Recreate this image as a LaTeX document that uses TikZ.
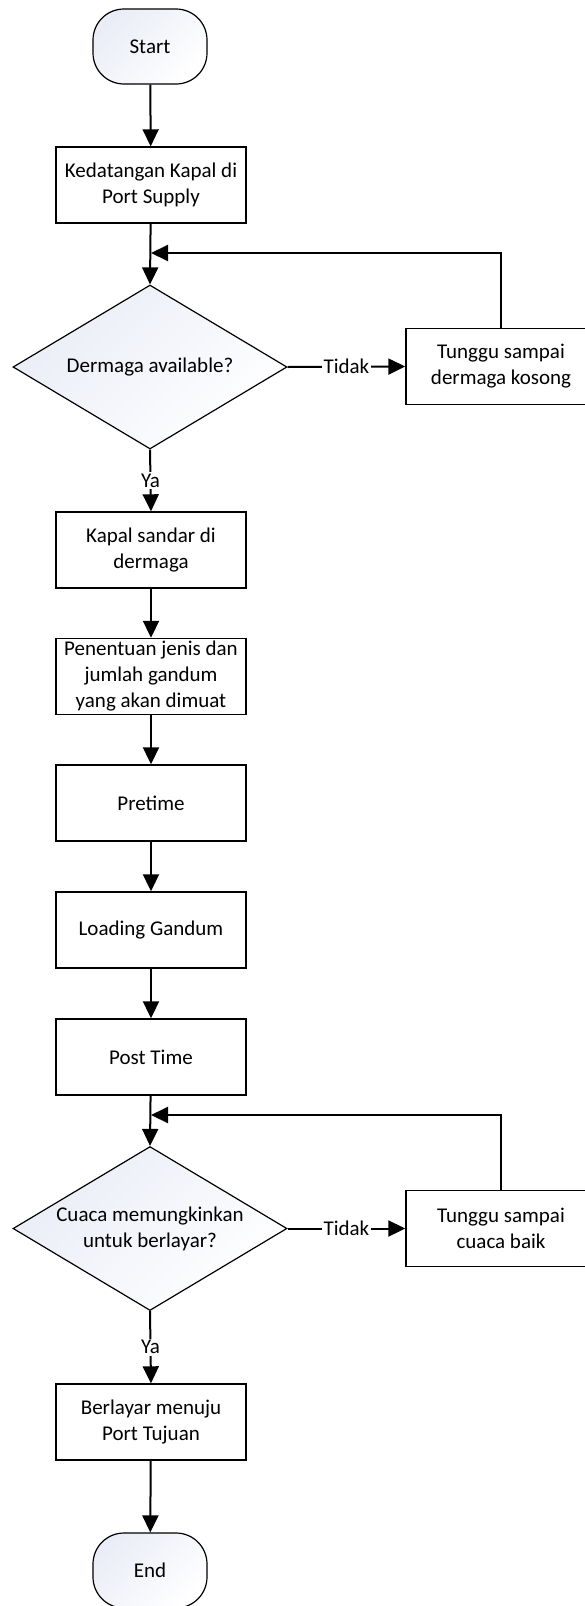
\documentclass[tikz,border=0pt]{standalone}
\usepackage{fontspec}
\setmainfont{Carlito}
\usetikzlibrary{shapes.geometric,arrows.meta}
\definecolor{shadeA}{RGB}{234,237,247}
\begin{document}
\begin{tikzpicture}[x=1pt,y=-1pt,
  every node/.style={font=\fontsize{21}{26}\selectfont},
  proc/.style={draw, line width=1.4pt, minimum width=190pt, minimum height=76pt, align=center, inner sep=0pt, fill=white},
  term/.style={draw, line width=1.2pt, rounded corners=31pt, minimum width=114pt, minimum height=75pt, top color=shadeA, bottom color=white, shading angle=45},
  dec/.style={draw, diamond, line width=1.2pt, minimum width=274pt, minimum height=164pt, inner sep=0pt, top color=shadeA, bottom color=white, shading angle=45},
  txt/.style={align=center, inner sep=0pt},
  arr/.style={line width=2pt, -{Triangle[length=17pt,width=16pt]}},
  lbl/.style={fill=white, inner sep=1.5pt}
]
\useasboundingbox (0,0) rectangle (585,1606);
\clip (0,0) rectangle (585,1606);

% nodes
\node[term] (start) at (150,46.5) {Start};
\node[proc] (b1) at (151,185) {Kedatangan Kapal di\\Port Supply};
\node[dec] (d1) at (150,367) {};
\node[txt] (d1t) at (d1) {Dermaga available?};
\node[proc] (r1) at (501,366.5) {Tunggu sampai\\dermaga kosong};
\node[proc] (b2) at (151,550) {Kapal sandar di\\dermaga};
\node[proc] (b3) at (151,676.5) {Penentuan jenis dan\\jumlah gandum\\yang akan dimuat};
\node[proc] (b4) at (151,803) {Pretime};
\node[proc] (b5) at (151,930) {Loading Gandum};
\node[proc] (b6) at (151,1057) {Post Time};
\node[dec] (d2) at (150,1228.5) {};
\node[txt] (d2t) at (d2) {Cuaca memungkinkan\\untuk berlayar?};
\node[proc] (r2) at (501,1228.5) {Tunggu sampai\\cuaca baik};
\node[proc] (b7) at (151,1422) {Berlayar menuju\\Port Tujuan};
\node[term] (end) at (150,1570.5) {End};

\coordinate (m1) at (151,253);
\coordinate (m2) at (151,1115);

% connectors
\draw[arr] (start) -- (b1);
\draw[arr] (b1) -- (d1.north);
\draw[arr] (r1.north) |- (m1);
\draw[arr] (d1.east) -- (r1.west) node[midway, lbl] {Tidak};
\draw[arr] (d1.south) -- (b2.north) node[midway, lbl] {Ya};
\draw[arr] (b2) -- (b3);
\draw[arr] (b3) -- (b4);
\draw[arr] (b4) -- (b5);
\draw[arr] (b5) -- (b6);
\draw[arr] (b6) -- (d2.north);
\draw[arr] (r2.north) |- (m2);
\draw[arr] (d2.east) -- (r2.west) node[midway, lbl] {Tidak};
\draw[arr] (d2.south) -- (b7.north) node[midway, lbl] {Ya};
\draw[arr] (b7) -- (end);
\end{tikzpicture}
\end{document}
